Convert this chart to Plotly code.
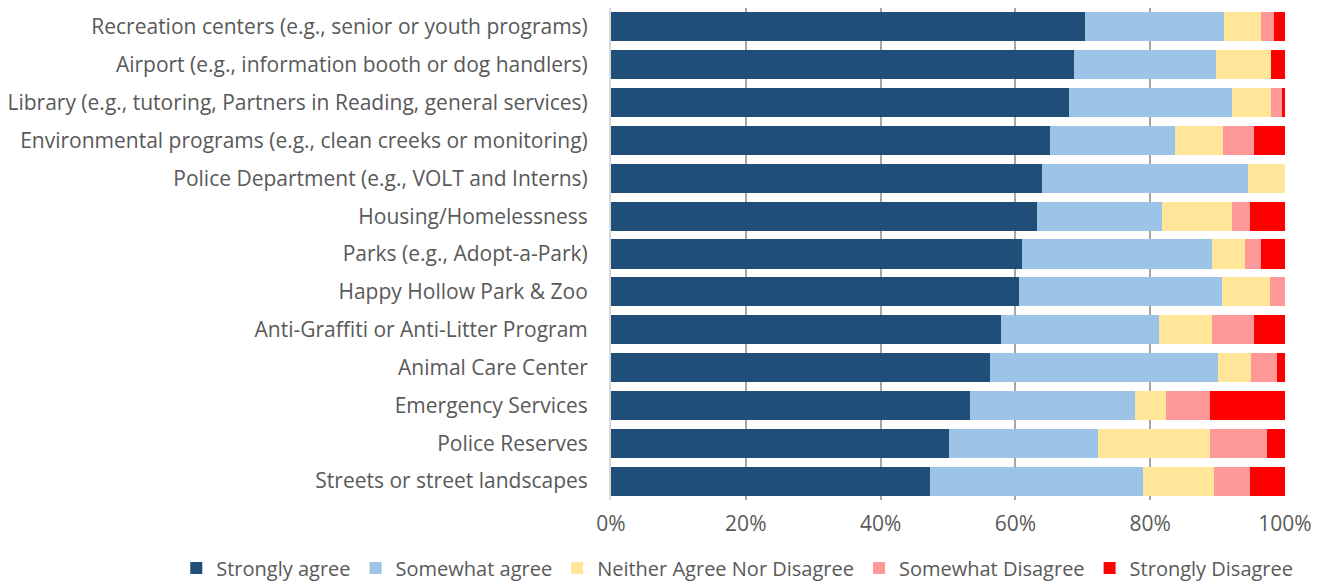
import plotly.graph_objects as go

categories = [
    "Recreation centers (e.g., senior or youth programs)",
    "Airport (e.g., information booth or dog handlers)",
    "Library (e.g., tutoring, Partners in Reading, general services)",
    "Environmental programs (e.g., clean creeks or monitoring)",
    "Police Department (e.g., VOLT and Interns)",
    "Housing/Homelessness",
    "Parks (e.g., Adopt-a-Park)",
    "Happy Hollow Park & Zoo",
    "Anti-Graffiti or Anti-Litter Program",
    "Animal Care Center",
    "Emergency Services",
    "Police Reserves",
    "Streets or street landscapes",
]

strongly_agree = [70.3, 68.7, 68.0, 65.2, 63.9, 63.2, 61.0, 60.5, 57.8, 56.3, 53.3, 50.1, 47.4]
somewhat_agree = [20.6, 21.0, 24.2, 18.5, 30.6, 18.5, 28.1, 30.2, 23.5, 33.7, 24.4, 22.2, 31.5]
neither = [5.5, 8.2, 5.7, 7.1, 5.5, 10.5, 4.9, 7.0, 7.8, 5.0, 4.6, 16.6, 10.6]
somewhat_disagree = [1.9, 0.0, 1.6, 4.6, 0.0, 2.6, 2.4, 2.3, 6.3, 3.8, 6.6, 8.4, 5.3]
strongly_disagree = [1.7, 2.1, 0.5, 4.6, 0.0, 5.2, 3.6, 0.0, 4.6, 1.2, 11.1, 2.7, 5.2]

series = [
    ("Strongly agree", strongly_agree, "#1F4E79"),
    ("Somewhat agree", somewhat_agree, "#9DC3E6"),
    ("Neither Agree Nor Disagree", neither, "#FFE699"),
    ("Somewhat Disagree", somewhat_disagree, "#FF9999"),
    ("Strongly Disagree", strongly_disagree, "#FF0000"),
]

font_family = "'Open Sans', Lato, sans-serif"
text_color = "#595959"

fig = go.Figure()
for name, vals, color in series:
    fig.add_trace(go.Bar(
        y=categories,
        x=[v / 100 for v in vals],
        name=name,
        orientation="h",
        marker=dict(color=color, line=dict(width=0)),
    ))

fig.update_layout(
    barmode="stack",
    bargap=0.23,
    width=1328,
    height=582,
    margin=dict(l=611, r=43, t=8, b=82, autoexpand=False),
    paper_bgcolor="white",
    plot_bgcolor="white",
    font=dict(family=font_family, size=21, color=text_color),
    xaxis=dict(
        range=[0, 1],
        tickvals=[0, 0.2, 0.4, 0.6, 0.8, 1.0],
        tickformat=".0%",
        showgrid=True,
        gridcolor="#A6A6A6",
        gridwidth=1.5,
        zeroline=False,
        showline=False,
        tickfont=dict(size=21, color=text_color),
        ticks="",
        ticklabelstandoff=9,
    ),
    yaxis=dict(
        categoryorder="array",
        categoryarray=categories[::-1],
        showline=True,
        linecolor="#D9D9D9",
        linewidth=2,
        ticks="",
        ticklabelstandoff=17,
        tickfont=dict(size=21, color=text_color),
    ),
    legend=dict(
        orientation="h",
        xref="paper",
        x=-0.645,
        xanchor="left",
        yref="paper",
        y=-0.138,
        yanchor="middle",
        font=dict(size=20, color=text_color),
        traceorder="normal",
        itemwidth=30,
    ),
)

fig.write_html("out.html")
